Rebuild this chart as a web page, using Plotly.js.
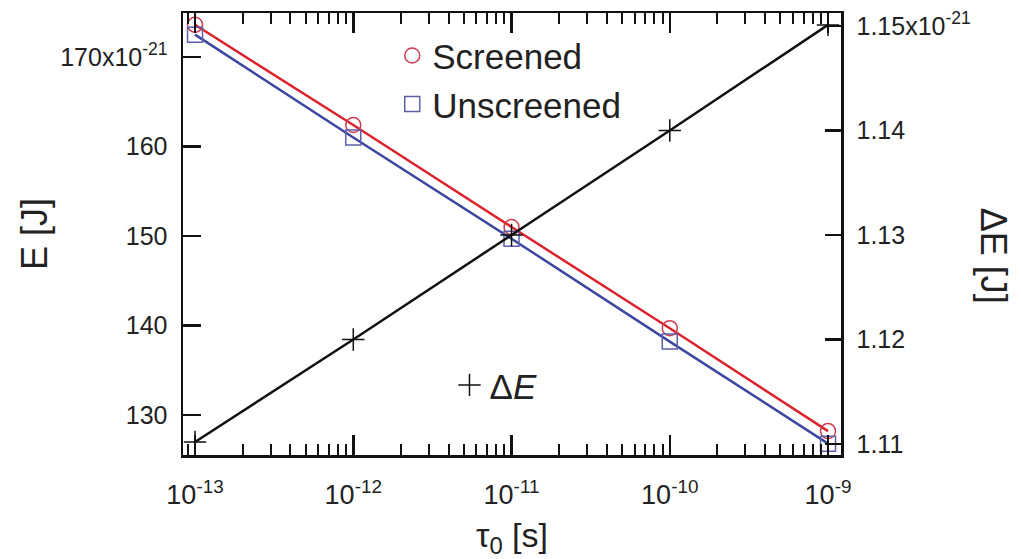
<!DOCTYPE html>
<html><head><meta charset="utf-8">
<script src="https://cdn.plot.ly/plotly-3.0.1.min.js"></script>
<style>html,body{margin:0;padding:0;background:#fff}#chart{width:1021px;height:559px}</style>
</head><body><div id="chart"></div>
<script>
// tau_0 [s]
const tau = [1e-13, 1e-12, 1e-11, 1e-10, 1e-9];
// E [J]
const screened = [173.6e-21, 162.4e-21, 151.0e-21, 139.7e-21, 128.2e-21];
const unscreened = [172.5e-21, 161.0e-21, 149.7e-21, 138.2e-21, 126.8e-21];
// Delta E [J]
const deltaE = [1.1102e-21, 1.1200e-21, 1.1300e-21, 1.1400e-21, 1.1501e-21];

const xTickVals = [1e-13, 1e-12, 1e-11, 1e-10, 1e-9];
const xTickText = ["10<sup>-13</sup>", "10<sup>-12</sup>", "10<sup>-11</sup>", "10<sup>-10</sup>", "10<sup>-9</sup>"];
const yTickVals = [130e-21, 140e-21, 150e-21, 160e-21, 170e-21];
const yTickText = ["130", "140", "150", "160", "170x10<sup>-21</sup>"];
const y2TickVals = [1.11e-21, 1.12e-21, 1.13e-21, 1.14e-21, 1.15e-21];
const y2TickText = ["1.11", "1.12", "1.13", "1.14", "1.15x10<sup>-21</sup>"];

const RED = "rgb(220,35,45)";
const BLUE = "rgb(60,72,160)";
const FONT = "Liberation Sans, Arial, sans-serif";
const X_RANGE = [-13.076, -8.918];

const traces = [
  {x: tau, y: unscreened, mode: "lines", line: {color: BLUE, width: 2.5}, showlegend: false, hoverinfo: "skip"},
  {x: tau, y: screened, mode: "lines", line: {color: RED, width: 2.5}, showlegend: false, hoverinfo: "skip"},
  {x: tau, y: screened, mode: "markers", name: "Screened", legend: "legend",
   marker: {symbol: "circle-open", size: 15, color: "rgb(205,60,80)", line: {width: 1.5}}},
  {x: tau, y: unscreened, mode: "markers", name: "Unscreened", legend: "legend",
   marker: {symbol: "square-open", size: 15, color: "rgb(95,95,170)", line: {width: 1.5}}},
  {x: tau, y: deltaE, yaxis: "y2", mode: "lines", line: {color: "#111", width: 2.5}, showlegend: false, hoverinfo: "skip"},
  {x: tau, y: deltaE, yaxis: "y2", mode: "markers", name: "\u0394<i>E</i>", legend: "legend2",
   marker: {symbol: "cross-thin", size: 16, color: "#111", line: {width: 1.5, color: "#111"}}}
];

const axisCommon = {
  showgrid: false, zeroline: false, showline: true, linecolor: "#111", linewidth: 2.5,
  ticks: "inside", tickcolor: "#111", tickwidth: 2.5, ticklen: 18,
  tickfont: {family: FONT, size: 25, color: "#222"}
};

const layout = {
  width: 1021, height: 559,
  margin: {l: 183, r: 180, t: 13, b: 104},
  paper_bgcolor: "#fff", plot_bgcolor: "#fff",
  font: {family: FONT, color: "#222"},
  xaxis: Object.assign({}, axisCommon, {
    type: "log", range: X_RANGE, mirror: "ticks",
    tickmode: "array", tickvals: xTickVals, ticktext: xTickText, ticklen: 20, ticklabelstandoff: 14,
    tickfont: {family: FONT, size: 27, color: "#222"},
    // minor log ticks at 2..9 of every decade
    minor: {dtick: "D1", ticks: "inside", ticklen: 11, tickwidth: 2, tickcolor: "#111", showgrid: false},
    title: {text: "\u03c4<sub>0</sub> [s]", font: {family: FONT, size: 34, color: "#222"}, standoff: 20}
  }),
  yaxis: Object.assign({}, axisCommon, {
    range: [125.53e-21, 174.92e-21],
    tickmode: "array", tickvals: yTickVals, ticktext: yTickText, ticklabelstandoff: 8,
    title: {text: "E [J]", font: {family: FONT, size: 36, color: "#222"}, standoff: 2}
  }),
  yaxis2: Object.assign({}, axisCommon, {
    overlaying: "y", side: "right", anchor: "x",
    range: [1.10895e-21, 1.15124e-21],
    tickmode: "array", tickvals: y2TickVals, ticktext: y2TickText, ticklabelstandoff: 8, ticklen: 16
  }),
  legend: {x: 0.318, y: 0.97, xanchor: "left", yanchor: "top", bgcolor: "rgba(0,0,0,0)",
           font: {family: FONT, size: 35, color: "#222"}, tracegroupgap: 0},
  legend2: {x: 0.405, y: 0.158, xanchor: "left", yanchor: "middle", bgcolor: "rgba(0,0,0,0)",
            font: {family: FONT, size: 35, color: "#222"}},
  annotations: [
    {text: "\u0394E [J]", xref: "paper", yref: "paper", x: 1.233, y: 0.45, xanchor: "center", yanchor: "middle",
     textangle: 90, showarrow: false, font: {family: FONT, size: 36, color: "#222"}}
  ],
  showlegend: true
};

Plotly.newPlot("chart", traces, layout, {displayModeBar: false, staticPlot: true});
</script></body></html>
